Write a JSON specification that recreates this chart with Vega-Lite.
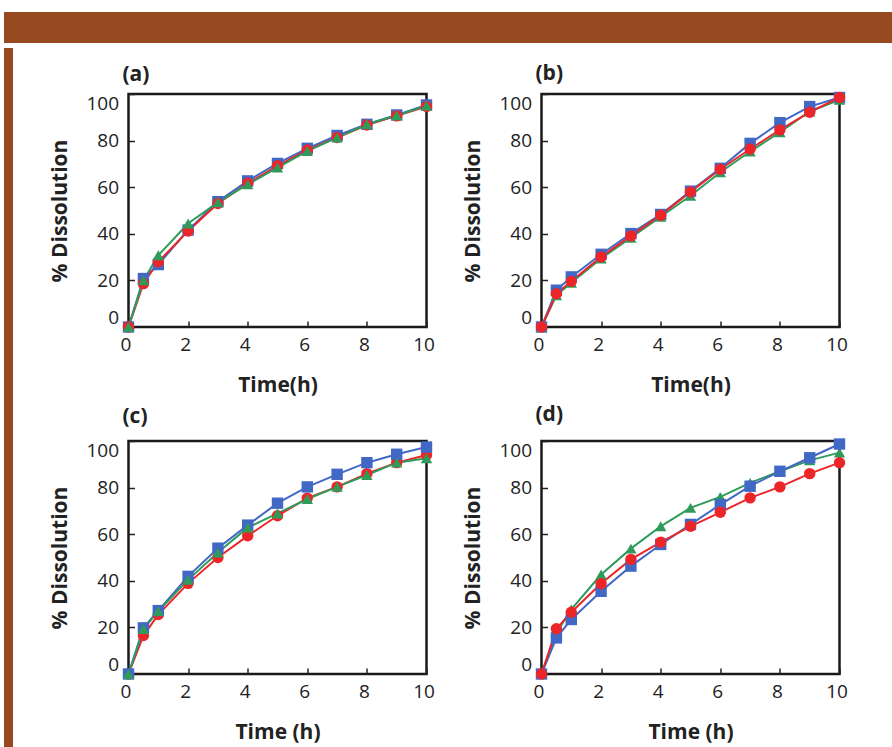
{
  "$schema": "https://vega.github.io/schema/vega-lite/v6.json",
  "background": "white",
  "padding": {"left": 4, "top": 12, "right": 0, "bottom": 0},
  "datasets": {
    "d": [
      {"panel":"a","series":"S1","t":0,"v":0},{"panel":"a","series":"S1","t":0.5,"v":20.8},{"panel":"a","series":"S1","t":1,"v":26.8},{"panel":"a","series":"S1","t":2,"v":41.6},{"panel":"a","series":"S1","t":3,"v":53.8},{"panel":"a","series":"S1","t":4,"v":62.7},{"panel":"a","series":"S1","t":5,"v":70.2},{"panel":"a","series":"S1","t":6,"v":76.7},{"panel":"a","series":"S1","t":7,"v":82.2},{"panel":"a","series":"S1","t":8,"v":87},{"panel":"a","series":"S1","t":9,"v":91},{"panel":"a","series":"S1","t":10,"v":95.3},
      {"panel":"a","series":"S2","t":0,"v":0},{"panel":"a","series":"S2","t":0.5,"v":18.6},{"panel":"a","series":"S2","t":1,"v":28},{"panel":"a","series":"S2","t":2,"v":41.2},{"panel":"a","series":"S2","t":3,"v":53},{"panel":"a","series":"S2","t":4,"v":61.7},{"panel":"a","series":"S2","t":5,"v":69.2},{"panel":"a","series":"S2","t":6,"v":76},{"panel":"a","series":"S2","t":7,"v":81.3},{"panel":"a","series":"S2","t":8,"v":86.7},{"panel":"a","series":"S2","t":9,"v":90.6},{"panel":"a","series":"S2","t":10,"v":94.6},
      {"panel":"a","series":"S3","t":0,"v":0},{"panel":"a","series":"S3","t":0.5,"v":20},{"panel":"a","series":"S3","t":1,"v":30.8},{"panel":"a","series":"S3","t":2,"v":44.4},{"panel":"a","series":"S3","t":3,"v":53.5},{"panel":"a","series":"S3","t":4,"v":61.2},{"panel":"a","series":"S3","t":5,"v":68.4},{"panel":"a","series":"S3","t":6,"v":75.5},{"panel":"a","series":"S3","t":7,"v":81.3},{"panel":"a","series":"S3","t":8,"v":87},{"panel":"a","series":"S3","t":9,"v":90.8},{"panel":"a","series":"S3","t":10,"v":95},

      {"panel":"b","series":"S1","t":0,"v":0},{"panel":"b","series":"S1","t":0.5,"v":15.8},{"panel":"b","series":"S1","t":1,"v":21.5},{"panel":"b","series":"S1","t":2,"v":31.2},{"panel":"b","series":"S1","t":3,"v":40.1},{"panel":"b","series":"S1","t":4,"v":48.3},{"panel":"b","series":"S1","t":5,"v":58.3},{"panel":"b","series":"S1","t":6,"v":68.1},{"panel":"b","series":"S1","t":7,"v":78.8},{"panel":"b","series":"S1","t":8,"v":87.7},{"panel":"b","series":"S1","t":9,"v":94.6},{"panel":"b","series":"S1","t":10,"v":98.5},
      {"panel":"b","series":"S3","t":0,"v":0},{"panel":"b","series":"S3","t":0.5,"v":13.6},{"panel":"b","series":"S3","t":1,"v":19},{"panel":"b","series":"S3","t":2,"v":29.4},{"panel":"b","series":"S3","t":3,"v":38.3},{"panel":"b","series":"S3","t":4,"v":47.3},{"panel":"b","series":"S3","t":5,"v":56.3},{"panel":"b","series":"S3","t":6,"v":66.4},{"panel":"b","series":"S3","t":7,"v":75.3},{"panel":"b","series":"S3","t":8,"v":83.6},{"panel":"b","series":"S3","t":9,"v":92.5},{"panel":"b","series":"S3","t":10,"v":97.5},
      {"panel":"b","series":"S2","t":0,"v":0},{"panel":"b","series":"S2","t":0.5,"v":14.3},{"panel":"b","series":"S2","t":1,"v":19.6},{"panel":"b","series":"S2","t":2,"v":30.1},{"panel":"b","series":"S2","t":3,"v":39.1},{"panel":"b","series":"S2","t":4,"v":48},{"panel":"b","series":"S2","t":5,"v":58},{"panel":"b","series":"S2","t":6,"v":67.7},{"panel":"b","series":"S2","t":7,"v":76.4},{"panel":"b","series":"S2","t":8,"v":84.6},{"panel":"b","series":"S2","t":9,"v":92.2},{"panel":"b","series":"S2","t":10,"v":98.5},

      {"panel":"c","series":"S2","t":0,"v":0},{"panel":"c","series":"S2","t":0.5,"v":16.5},{"panel":"c","series":"S2","t":1,"v":25.5},{"panel":"c","series":"S2","t":2,"v":38.9},{"panel":"c","series":"S2","t":3,"v":50},{"panel":"c","series":"S2","t":4,"v":59.3},{"panel":"c","series":"S2","t":5,"v":67.9},{"panel":"c","series":"S2","t":6,"v":75.5},{"panel":"c","series":"S2","t":7,"v":80.3},{"panel":"c","series":"S2","t":8,"v":86},{"panel":"c","series":"S2","t":9,"v":90.7},{"panel":"c","series":"S2","t":10,"v":94},
      {"panel":"c","series":"S1","t":0,"v":0},{"panel":"c","series":"S1","t":0.5,"v":19.8},{"panel":"c","series":"S1","t":1,"v":27.2},{"panel":"c","series":"S1","t":2,"v":41.9},{"panel":"c","series":"S1","t":3,"v":54},{"panel":"c","series":"S1","t":4,"v":63.9},{"panel":"c","series":"S1","t":5,"v":73.3},{"panel":"c","series":"S1","t":6,"v":80.3},{"panel":"c","series":"S1","t":7,"v":85.7},{"panel":"c","series":"S1","t":8,"v":90.7},{"panel":"c","series":"S1","t":9,"v":94.3},{"panel":"c","series":"S1","t":10,"v":97.4},
      {"panel":"c","series":"S3","t":0,"v":0},{"panel":"c","series":"S3","t":0.5,"v":19.3},{"panel":"c","series":"S3","t":1,"v":27},{"panel":"c","series":"S3","t":2,"v":40.4},{"panel":"c","series":"S3","t":3,"v":52.1},{"panel":"c","series":"S3","t":4,"v":62.8},{"panel":"c","series":"S3","t":5,"v":68.9},{"panel":"c","series":"S3","t":6,"v":75.1},{"panel":"c","series":"S3","t":7,"v":80.3},{"panel":"c","series":"S3","t":8,"v":85.4},{"panel":"c","series":"S3","t":9,"v":90.7},{"panel":"c","series":"S3","t":10,"v":92.6},

      {"panel":"d","series":"S3","t":0,"v":0},{"panel":"d","series":"S3","t":0.5,"v":17.7},{"panel":"d","series":"S3","t":1,"v":27.7},{"panel":"d","series":"S3","t":2,"v":42.7},{"panel":"d","series":"S3","t":3,"v":53.8},{"panel":"d","series":"S3","t":4,"v":63.4},{"panel":"d","series":"S3","t":5,"v":71.3},{"panel":"d","series":"S3","t":6,"v":76},{"panel":"d","series":"S3","t":7,"v":82},{"panel":"d","series":"S3","t":8,"v":87},{"panel":"d","series":"S3","t":9,"v":91.7},{"panel":"d","series":"S3","t":10,"v":95},
      {"panel":"d","series":"S1","t":0,"v":0},{"panel":"d","series":"S1","t":0.5,"v":15.5},{"panel":"d","series":"S1","t":1,"v":23.4},{"panel":"d","series":"S1","t":2,"v":35.5},{"panel":"d","series":"S1","t":3,"v":46.3},{"panel":"d","series":"S1","t":4,"v":55.6},{"panel":"d","series":"S1","t":5,"v":64.2},{"panel":"d","series":"S1","t":6,"v":72.7},{"panel":"d","series":"S1","t":7,"v":80.6},{"panel":"d","series":"S1","t":8,"v":87},{"panel":"d","series":"S1","t":9,"v":92.8},{"panel":"d","series":"S1","t":10,"v":98.7},
      {"panel":"d","series":"S2","t":0,"v":0},{"panel":"d","series":"S2","t":0.5,"v":19.4},{"panel":"d","series":"S2","t":1,"v":26.5},{"panel":"d","series":"S2","t":2,"v":38.8},{"panel":"d","series":"S2","t":3,"v":49.2},{"panel":"d","series":"S2","t":4,"v":56.6},{"panel":"d","series":"S2","t":5,"v":63.4},{"panel":"d","series":"S2","t":6,"v":69.4},{"panel":"d","series":"S2","t":7,"v":75.6},{"panel":"d","series":"S2","t":8,"v":80.3},{"panel":"d","series":"S2","t":9,"v":86},{"panel":"d","series":"S2","t":10,"v":90.7}
    ]
  },
  "spacing": 0,
  "vconcat": [
    {
      "width": 888, "height": 31,
      "view": {"fill": "#974a1f", "stroke": null},
      "data": {"values": [{"s": ""}]},
      "mark": {"type": "text"},
      "encoding": {"text": {"field": "s"}}
    },
    {
      "spacing": 35.5,
      "hconcat": [
        {
          "width": 9, "height": 704,
          "view": {"fill": "#974a1f", "stroke": null},
          "data": {"values": [{"s": ""}]},
          "mark": {"type": "text"},
          "encoding": {"text": {"field": "s"}}
        },
        {
          "spacing": 6,
          "vconcat": [
            {
              "width": 1, "height": 3,
              "view": {"fill": "white", "stroke": null},
              "data": {"values": [{"s": ""}]},
              "mark": {"type": "text"},
              "encoding": {"text": {"field": "s"}}
            },
            {
              "spacing": 25,
              "hconcat": [
                {
                  "title": {"text": "(a)"},
                  "width": 298, "height": 233,
                  "data": {"name": "d"},
                  "transform": [{"filter": "datum.panel === 'a'"}],
                  "encoding": {
                    "x": {"field": "t", "type": "quantitative", "scale": {"domain": [0, 10], "nice": false}, "axis": {"title": "Time(h)", "values": [0, 2, 4, 6, 8, 10]}},
                    "y": {"field": "v", "type": "quantitative", "scale": {"domain": [0, 100], "nice": false}, "axis": {"title": "% Dissolution", "values": [0, 20, 40, 60, 80, 100]}},
                    "color": {"field": "series", "type": "nominal", "scale": {"domain": ["S1", "S2", "S3"], "range": ["#4268c6", "#ec2529", "#2f9b5b"]}, "legend": null}
                  },
                  "layer": [
                    {"mark": {"type": "line", "strokeWidth": 2, "clip": false}},
                    {"mark": {"type": "point", "filled": true, "opacity": 1, "size": 130, "clip": false}, "encoding": {"shape": {"field": "series", "type": "nominal", "scale": {"domain": ["S1", "S2", "S3"], "range": ["square", "circle", "triangle-up"]}, "legend": null}}}
                  ]
                },
                {
                  "title": {"text": "(b)"},
                  "width": 298, "height": 233,
                  "data": {"name": "d"},
                  "transform": [{"filter": "datum.panel === 'b'"}],
                  "encoding": {
                    "x": {"field": "t", "type": "quantitative", "scale": {"domain": [0, 10], "nice": false}, "axis": {"title": "Time(h)", "values": [0, 2, 4, 6, 8, 10]}},
                    "y": {"field": "v", "type": "quantitative", "scale": {"domain": [0, 100], "nice": false}, "axis": {"title": "% Dissolution", "values": [0, 20, 40, 60, 80, 100]}},
                    "color": {"field": "series", "type": "nominal", "scale": {"domain": ["S1", "S2", "S3"], "range": ["#4268c6", "#ec2529", "#2f9b5b"]}, "legend": null}
                  },
                  "layer": [
                    {"mark": {"type": "line", "strokeWidth": 2, "clip": false}},
                    {"mark": {"type": "point", "filled": true, "opacity": 1, "size": 130, "clip": false}, "encoding": {"shape": {"field": "series", "type": "nominal", "scale": {"domain": ["S1", "S2", "S3"], "range": ["square", "circle", "triangle-up"]}, "legend": null}}}
                  ]
                }
              ]
            },
            {
              "spacing": 25,
              "hconcat": [
                {
                  "title": {"text": "(c)", "offset": 13},
                  "width": 298, "height": 233,
                  "data": {"name": "d"},
                  "transform": [{"filter": "datum.panel === 'c'"}],
                  "encoding": {
                    "x": {"field": "t", "type": "quantitative", "scale": {"domain": [0, 10], "nice": false}, "axis": {"title": "Time (h)", "values": [0, 2, 4, 6, 8, 10]}},
                    "y": {"field": "v", "type": "quantitative", "scale": {"domain": [0, 100], "nice": false}, "axis": {"title": "% Dissolution", "values": [0, 20, 40, 60, 80, 100]}},
                    "color": {"field": "series", "type": "nominal", "scale": {"domain": ["S1", "S2", "S3"], "range": ["#4268c6", "#ec2529", "#2f9b5b"]}, "legend": null}
                  },
                  "layer": [
                    {"mark": {"type": "line", "strokeWidth": 2, "clip": false}},
                    {"mark": {"type": "point", "filled": true, "opacity": 1, "size": 130, "clip": false}, "encoding": {"shape": {"field": "series", "type": "nominal", "scale": {"domain": ["S1", "S2", "S3"], "range": ["square", "circle", "triangle-up"]}, "legend": null}}}
                  ]
                },
                {
                  "title": {"text": "(d)", "offset": 13},
                  "width": 298, "height": 233,
                  "data": {"name": "d"},
                  "transform": [{"filter": "datum.panel === 'd'"}],
                  "encoding": {
                    "x": {"field": "t", "type": "quantitative", "scale": {"domain": [0, 10], "nice": false}, "axis": {"title": "Time (h)", "values": [0, 2, 4, 6, 8, 10]}},
                    "y": {"field": "v", "type": "quantitative", "scale": {"domain": [0, 100], "nice": false}, "axis": {"title": "% Dissolution", "values": [0, 20, 40, 60, 80, 100]}},
                    "color": {"field": "series", "type": "nominal", "scale": {"domain": ["S1", "S2", "S3"], "range": ["#4268c6", "#ec2529", "#2f9b5b"]}, "legend": null}
                  },
                  "layer": [
                    {"mark": {"type": "line", "strokeWidth": 2, "clip": false}},
                    {"mark": {"type": "point", "filled": true, "opacity": 1, "size": 130, "clip": false}, "encoding": {"shape": {"field": "series", "type": "nominal", "scale": {"domain": ["S1", "S2", "S3"], "range": ["square", "circle", "triangle-up"]}, "legend": null}}}
                  ]
                }
              ]
            }
          ]
        }
      ]
    }
  ],
  "config": {
    "font": "Open Sans",
    "view": {"stroke": "#1a1a1a", "strokeWidth": 2.5},
    "axis": {
      "domain": false, "grid": false,
      "labelFont": "Open Sans", "labelFontSize": 19, "labelColor": "#222",
      "titleFont": "Open Sans", "titleFontSize": 21, "titleFontWeight": "bold", "titleColor": "#222",
      "tickColor": "#222", "tickSize": -6, "tickWidth": 1.5
    },
    "axisY": {"labelFlush": true, "titlePadding": 15, "labelPadding": 16},
    "axisX": {"titlePadding": 20, "labelPadding": 14, "labelOffset": -3, "labelFlush": false},
    "title": {"anchor": "start", "frame": "group", "fontSize": 21, "fontWeight": "bold", "font": "Open Sans", "color": "#222", "offset": 8, "dx": -6}
  }
}
